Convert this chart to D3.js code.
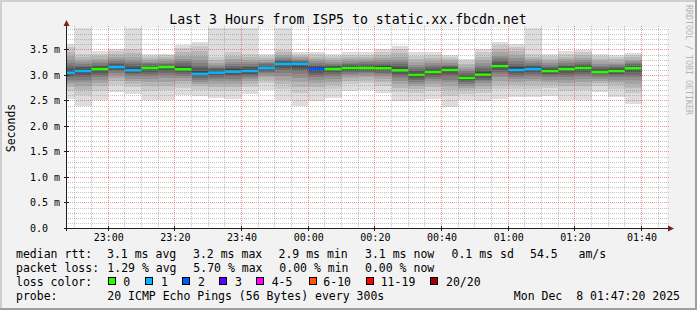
<!DOCTYPE html>
<html>
<head>
<meta charset="utf-8">
<script src="https://cdn.jsdelivr.net/npm/d3@7"></script>
<style>
html, body { margin: 0; padding: 0; background: #f2f2f2; }
svg { display: block; font-family: "DejaVu Sans Mono", monospace; }
text { white-space: pre; }
</style>
</head>
<body>
<script>
// step end times (5 min steps), median rtt (ms), lost pings out of 20
var times = ["22:50","22:55","23:00","23:05","23:10","23:15","23:20","23:25","23:30","23:35",
  "23:40","23:45","23:50","23:55","00:00","00:05","00:10","00:15","00:20","00:25",
  "00:30","00:35","00:40","00:45","00:50","00:55","01:00","01:05","01:10","01:15",
  "01:20","01:25","01:30","01:35","01:40"]
var median = [3.045,3.076,3.115,3.154,3.090,3.135,3.154,3.110,3.020,3.045,
  3.064,3.076,3.135,3.217,3.217,3.115,3.115,3.135,3.135,3.130,
  3.090,3.000,3.056,3.096,2.940,3.005,3.174,3.095,3.115,3.075,
  3.115,3.135,3.055,3.076,3.130]
var lost = [1,1,0,1,1,0,0,0,1,1, 1,1,1,1,1,2,0,0,0,0, 0,0,0,0,0,0,0,1,1,0, 0,0,0,0,0]

// sorted ping rtts (ms) per step, 20 pings
var pings = [
  [2.52,2.68,2.76,2.82,2.87,2.91,2.95,2.98,3.01,3.03,3.07,3.10,3.14,3.19,3.24,3.30,3.37,3.45,3.54,3.61],
  [2.40,2.60,2.70,2.79,2.86,2.91,2.95,2.99,3.03,3.06,3.09,3.12,3.15,3.18,3.21,3.25,3.29,3.35,3.42,4.35],
  [2.50,2.69,2.78,2.85,2.91,2.96,3.00,3.04,3.07,3.10,3.13,3.15,3.18,3.20,3.24,3.27,3.32,3.37,3.42,3.47],
  [2.67,2.81,2.89,2.94,2.99,3.03,3.07,3.10,3.12,3.14,3.17,3.19,3.21,3.24,3.27,3.31,3.36,3.41,3.46,3.51],
  [2.62,2.76,2.83,2.89,2.93,2.97,3.01,3.03,3.06,3.08,3.11,3.14,3.17,3.21,3.25,3.30,3.36,3.43,3.51,4.10],
  [2.50,2.69,2.79,2.86,2.93,2.98,3.02,3.06,3.09,3.12,3.15,3.16,3.18,3.21,3.23,3.26,3.30,3.34,3.38,3.42],
  [2.50,2.70,2.79,2.87,2.94,2.99,3.04,3.08,3.11,3.13,3.17,3.18,3.20,3.22,3.24,3.27,3.31,3.35,3.39,3.42],
  [2.60,2.75,2.83,2.89,2.94,2.98,3.02,3.05,3.07,3.09,3.13,3.16,3.19,3.23,3.27,3.32,3.38,3.45,3.52,3.58],
  [2.58,2.71,2.78,2.83,2.87,2.91,2.94,2.97,2.99,3.01,3.04,3.08,3.13,3.18,3.23,3.30,3.38,3.47,3.56,3.64],
  [2.54,2.69,2.77,2.83,2.88,2.92,2.96,2.99,3.01,3.03,3.06,3.08,3.11,3.13,3.16,3.20,3.24,3.29,3.35,4.20],
  [2.53,2.69,2.77,2.83,2.89,2.93,2.97,3.00,3.03,3.05,3.08,3.11,3.14,3.18,3.21,3.26,3.31,3.37,3.45,4.25],
  [2.63,2.76,2.83,2.88,2.93,2.96,3.00,3.02,3.04,3.06,3.09,3.12,3.15,3.18,3.21,3.25,3.29,3.35,3.42,4.00],
  [2.71,2.84,2.90,2.95,2.99,3.03,3.06,3.08,3.11,3.12,3.15,3.16,3.18,3.21,3.23,3.26,3.30,3.34,3.38,3.42],
  [2.50,2.72,2.82,2.91,2.98,3.04,3.09,3.13,3.17,3.20,3.23,3.25,3.27,3.30,3.32,3.35,3.39,3.44,3.49,4.30],
  [2.39,2.64,2.76,2.86,2.94,3.01,3.07,3.12,3.16,3.19,3.23,3.24,3.26,3.27,3.29,3.32,3.35,3.38,3.41,3.44],
  [2.49,2.68,2.77,2.85,2.91,2.96,3.00,3.04,3.07,3.10,3.13,3.15,3.17,3.20,3.23,3.27,3.31,3.36,3.41,3.45],
  [2.55,2.72,2.80,2.87,2.93,2.97,3.01,3.05,3.08,3.10,3.13,3.15,3.17,3.19,3.22,3.25,3.29,3.33,3.38,3.42],
  [2.68,2.82,2.88,2.94,2.99,3.02,3.05,3.08,3.10,3.12,3.15,3.17,3.19,3.21,3.24,3.27,3.31,3.35,3.40,3.44],
  [2.71,2.84,2.90,2.95,2.99,3.03,3.06,3.08,3.11,3.12,3.15,3.16,3.19,3.22,3.25,3.28,3.31,3.36,3.40,3.44],
  [2.65,2.79,2.87,2.92,2.97,3.01,3.04,3.07,3.10,3.12,3.14,3.17,3.19,3.22,3.26,3.30,3.34,3.40,3.45,3.50],
  [2.48,2.66,2.75,2.83,2.89,2.94,2.98,3.02,3.05,3.07,3.11,3.14,3.17,3.21,3.25,3.30,3.36,3.43,3.50,3.56],
  [2.49,2.64,2.72,2.78,2.83,2.87,2.91,2.94,2.96,2.98,3.02,3.04,3.07,3.11,3.15,3.20,3.26,3.32,3.38,3.44],
  [2.52,2.68,2.76,2.83,2.88,2.92,2.96,2.99,3.02,3.04,3.07,3.09,3.12,3.15,3.19,3.23,3.28,3.33,3.39,3.44],
  [2.37,2.59,2.70,2.78,2.86,2.91,2.97,3.01,3.05,3.07,3.11,3.13,3.15,3.17,3.20,3.23,3.27,3.31,3.35,3.39],
  [2.50,2.63,2.70,2.75,2.79,2.83,2.86,2.89,2.91,2.93,2.96,2.98,3.00,3.04,3.07,3.11,3.16,3.21,3.27,3.32],
  [2.49,2.64,2.72,2.78,2.84,2.88,2.91,2.94,2.97,2.99,3.03,3.05,3.09,3.13,3.17,3.23,3.29,3.36,3.44,3.50],
  [2.52,2.72,2.81,2.89,2.96,3.01,3.06,3.10,3.13,3.15,3.19,3.22,3.25,3.29,3.33,3.38,3.44,3.51,3.58,3.64],
  [2.56,2.72,2.80,2.86,2.92,2.96,3.00,3.03,3.06,3.08,3.12,3.15,3.18,3.22,3.27,3.33,3.39,3.47,3.54,3.61],
  [2.56,2.73,2.81,2.88,2.93,2.98,3.02,3.05,3.08,3.10,3.13,3.15,3.18,3.20,3.23,3.27,3.31,3.36,3.42,4.15],
  [2.59,2.74,2.81,2.87,2.91,2.95,2.99,3.02,3.04,3.06,3.09,3.11,3.13,3.16,3.19,3.23,3.27,3.32,3.37,3.41],
  [2.50,2.69,2.78,2.85,2.91,2.96,3.00,3.04,3.07,3.10,3.13,3.15,3.17,3.20,3.23,3.27,3.32,3.36,3.41,3.46],
  [2.51,2.70,2.79,2.87,2.93,2.98,3.02,3.06,3.09,3.12,3.15,3.17,3.20,3.22,3.26,3.30,3.34,3.39,3.44,3.49],
  [2.67,2.79,2.84,2.89,2.93,2.96,2.99,3.01,3.03,3.04,3.07,3.09,3.12,3.15,3.18,3.22,3.27,3.32,3.37,3.42],
  [2.57,2.72,2.80,2.86,2.91,2.95,2.99,3.02,3.04,3.06,3.09,3.11,3.13,3.16,3.19,3.22,3.26,3.31,3.36,3.40],
  [2.43,2.64,2.75,2.83,2.90,2.96,3.00,3.05,3.08,3.11,3.14,3.16,3.18,3.21,3.23,3.27,3.30,3.35,3.39,3.43]
]

var lossMax = [0, 1, 2, 3, 5, 10, 19, 20]
var lossLabels = ["0", "1", "2", "3", "4-5", "6-10", "11-19", "20/20"]
var lossColors = ["#26ff00", "#00b8ff", "#0059ff", "#5e00ff", "#ff00ff", "#ff5500", "#ff0000", "#a10000"]

var yTicks = [0, 0.5, 1.0, 1.5, 2.0, 2.5, 3.0, 3.5]
var xTickLabels = ["23:00","23:20","23:40","00:00","00:20","00:40","01:00","01:20","01:40"]

var title = "Last 3 Hours from ISP5 to static.xx.fbcdn.net"
var rttLegend = ["3.1 ms avg", "3.2 ms max", "2.9 ms min", "3.1 ms now", "0.1 ms sd", "54.5   am/s"]
var lossLegend = ["1.29 % avg", "5.70 % max", "0.00 % min", "0.00 % now"]
var probeText = "20 ICMP Echo Pings (56 Bytes) every 300s"
var stamp = "Mon Dec  8 01:47:20 2025"

// helpers
var parseT = function(s) {
  var h = +s.slice(0, 2), m = +s.slice(3, 5)
  return h >= 12 ? new Date(2025, 11, 7, h, m) : new Date(2025, 11, 8, h, m)
}
var start = new Date(2025, 11, 7, 22, 47, 20)
var end = new Date(2025, 11, 8, 1, 47, 20)

var W = 697, H = 310
var svg = d3.select('body').append('svg').attr('width', W).attr('height', H)

// frame
svg.append('rect').attr('width', W).attr('height', H).attr('fill', '#f2f2f2')
svg.append('path').attr('d', 'M0,' + H + 'V0H' + W + 'V2H2V' + (H - 2) + 'H0Z').attr('fill', '#cfcfcf')
svg.append('path').attr('d', 'M' + W + ',0V' + H + 'H0V' + (H - 2) + 'H' + (W - 2) + 'V0Z').attr('fill', '#9e9e9e')

var x = d3.scaleTime().domain([start, end]).range([66, 666])
var y = d3.scaleLinear().domain([0, 3.92]).range([228, 28])
var pxX = function(v) { return Math.floor(v) + 0.5 }
var pxY = function(v) { return Math.round(v) + 0.5 }

// canvas
svg.append('rect').attr('x', 67).attr('y', 28).attr('width', 600).attr('height', 200).attr('fill', '#fff')

svg.append('clipPath').attr('id', 'plot')
  .append('rect').attr('x', 67).attr('y', 28).attr('width', 600).attr('height', 200)

var plot = svg.append('g').attr('clip-path', 'url(#plot)')

// smoke: pairs of pings from outside in, lighter to darker
var smokeCols = d3.range(10).map(function(i) {
  var c = Math.floor(190 / 10 * (10 - (i + 1))) + 50
  return d3.rgb(c, c, c).formatHex()
})

var steps = times.map(function(t, i) {
  var te = parseT(t)
  return { end: te, begin: d3.timeMinute.offset(te, -5), med: median[i], lost: lost[i], p: pings[i] }
})

var bars = plot.selectAll('g.bar').data(steps).enter().append('g').attr('class', 'bar')
bars.each(function(d) {
  var g = d3.select(this)
  var x0 = x(d.begin), x1 = x(d.end)
  smokeCols.forEach(function(col, i) {
    var hi = y(d.p[19 - i]), lo = y(d.p[i])
    g.append('rect')
      .attr('x', x0).attr('width', x1 - x0)
      .attr('y', hi).attr('height', lo - hi)
      .attr('fill', col)
      .attr('shape-rendering', 'crispEdges')
  })
})

// median bars colored by loss
var lossColor = function(n) {
  for (var i = 0; i < lossMax.length; i++) if (n <= lossMax[i]) return lossColors[i]
  return lossColors[lossColors.length - 1]
}
plot.selectAll('rect.med').data(steps).enter().append('rect')
  .attr('class', 'med')
  .attr('x', function(d) { return x(d.begin) })
  .attr('width', function(d) { return x(d.end) - x(d.begin) })
  .attr('y', function(d) { return y(d.med) - 1.3 })
  .attr('height', 2.6)
  .attr('fill', function(d) { return lossColor(d.lost) })

// grid on top of the data
var minorCol = 'rgba(143,143,143,0.55)', majorCol = 'rgba(222,79,79,0.6)'
var grid = svg.append('g').attr('class', 'grid')
  .attr('stroke-dasharray', '1,1').attr('stroke-width', 1).attr('shape-rendering', 'crispEdges')

var gridY = d3.range(1, 40).map(function(i) { return { v: i / 10, major: i % 5 === 0 } })
grid.selectAll('line.gy').data(gridY).enter().append('line')
  .attr('class', 'gy')
  .attr('x1', 68).attr('x2', 669)
  .attr('y1', function(d) { return pxY(y(d.v)) })
  .attr('y2', function(d) { return pxY(y(d.v)) })
  .attr('stroke', function(d) { return d.major ? majorCol : minorCol })

var gridX = d3.timeMinute.every(5).range(start, end).map(function(t) {
  return { t: t, major: t.getMinutes() % 20 === 0 }
})
grid.selectAll('line.gx').data(gridX).enter().append('line')
  .attr('class', 'gx')
  .attr('y1', 26).attr('y2', 228)
  .attr('x1', function(d) { return pxX(x(d.t)) })
  .attr('x2', function(d) { return pxX(x(d.t)) })
  .attr('stroke', function(d) { return d.major ? majorCol : minorCol })

// axes
var axisCol = '#1f1f1f', arrowCol = '#801f1f'
var majorX = xTickLabels.map(parseT)
var axes = svg.append('g').attr('shape-rendering', 'crispEdges').attr('stroke', axisCol)
axes.append('line').attr('x1', 66.5).attr('x2', 66.5).attr('y1', 231).attr('y2', 24)
axes.append('line').attr('x1', 64).attr('x2', 670).attr('y1', 228.5).attr('y2', 228.5)
axes.selectAll('line.ty').data(yTicks).enter().append('line')
  .attr('class', 'ty')
  .attr('x1', 64).attr('x2', 69)
  .attr('y1', function(d) { return pxY(y(d)) })
  .attr('y2', function(d) { return pxY(y(d)) })
axes.selectAll('line.tx').data(majorX).enter().append('line')
  .attr('class', 'tx')
  .attr('y1', 226).attr('y2', 231)
  .attr('x1', function(d) { return pxX(x(d)) })
  .attr('x2', function(d) { return pxX(x(d)) })
svg.append('path').attr('d', 'M63.5,26L66.5,20L69.5,26Z').attr('fill', arrowCol)
svg.append('path').attr('d', 'M668,225.5L674,228.5L668,231.5Z').attr('fill', arrowCol)

svg.selectAll('text.ly').data(yTicks).enter().append('text')
  .attr('class', 'ly')
  .attr('x', 30).attr('y', function(d) { return Math.round(y(d)) + 3.8 })
  .attr('font-size', 10).attr('fill', '#000')
  .text(function(d) { return d === 0 ? '0.0' : d.toFixed(1) + ' m' })
svg.selectAll('text.lx').data(majorX).enter().append('text')
  .attr('class', 'lx')
  .attr('x', function(d) { return x(d) + 0.5 }).attr('y', 241)
  .attr('text-anchor', 'middle').attr('font-size', 10).attr('fill', '#000')
  .text(function(d, i) { return xTickLabels[i] })

// title, unit, watermark
svg.append('text').attr('x', 348).attr('y', 24).attr('text-anchor', 'middle')
  .attr('font-size', 13.2).attr('fill', '#000').text(title)
svg.append('text').attr('transform', 'translate(15,128) rotate(-90)').attr('text-anchor', 'middle')
  .attr('font-size', 11.5).attr('fill', '#000').text('Seconds')
svg.append('text').attr('transform', 'translate(686,60) rotate(90)').attr('text-anchor', 'middle')
  .attr('font-size', 8.3).attr('fill', '#b4b4b4').text('RRDTOOL / TOBI OETIKER')

// legend
var lg = svg.append('g').attr('font-size', 11.5).attr('fill', '#000')
var rowY = [257.5, 271.7, 286, 300]
lg.append('text').attr('x', 16).attr('y', rowY[0]).text('median rtt:')
var rttX = [107, 193, 278.5, 365, 451.5, 530]
rttLegend.forEach(function(s, i) { lg.append('text').attr('x', rttX[i]).attr('y', rowY[0]).text(s) })
lg.append('text').attr('x', 16).attr('y', rowY[1]).text('packet loss:')
var lossX = [107.3, 193.3, 279.3, 365]
lossLegend.forEach(function(s, i) { lg.append('text').attr('x', lossX[i]).attr('y', rowY[1]).text(s) })
lg.append('text').attr('x', 16).attr('y', rowY[2]).text('loss color:')
var boxX = [108.5, 145.5, 182.5, 219.5, 256.5, 309.5, 366.5, 430.5]
var boxLabelX = [123.3, 161, 198, 235, 271.7, 323.3, 380.7, 446]
lossColors.forEach(function(c, i) {
  lg.append('rect').attr('x', boxX[i]).attr('y', 277.5).attr('width', 7).attr('height', 7)
    .attr('fill', c).attr('stroke', '#000').attr('stroke-width', 1)
  lg.append('text').attr('x', boxLabelX[i]).attr('y', rowY[2]).text(lossLabels[i])
})
lg.append('text').attr('x', 16).attr('y', rowY[3]).text('probe:')
lg.append('text').attr('x', 107.3).attr('y', rowY[3]).text(probeText)
lg.append('text').attr('x', 680).attr('y', rowY[3]).attr('text-anchor', 'end').text(stamp)
</script>
</body>
</html>
